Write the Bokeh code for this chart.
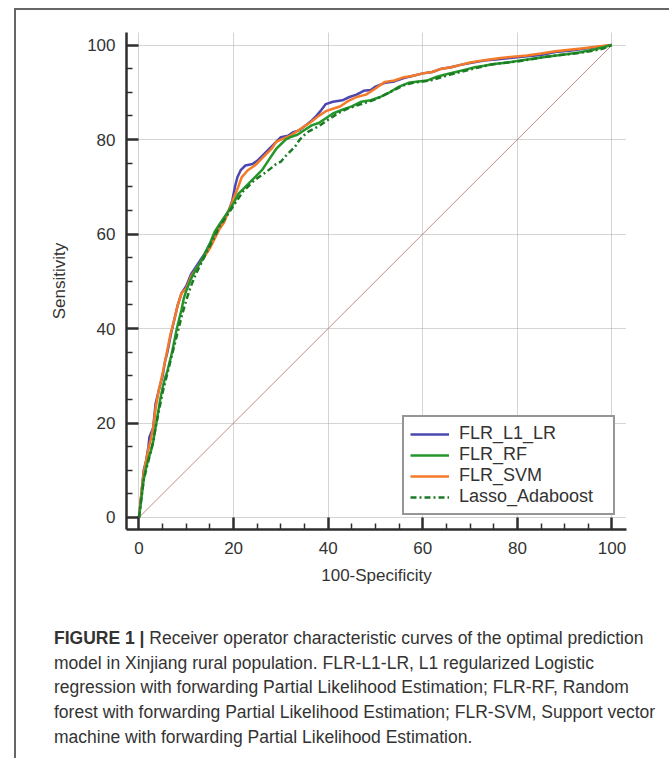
from bokeh.plotting import figure
from bokeh.layouts import column
from bokeh.models import Range1d, Legend, LegendItem, FixedTicker, Div
from bokeh.embed import file_html
from bokeh.resources import INLINE

# ---------------- data ----------------
series_names = ["FLR_L1_LR", "FLR_RF", "FLR_SVM", "Lasso_Adaboost"]

l1_x = [0, 0.5, 1, 1.5, 2, 2.2, 3, 3.5, 4.2, 5, 5.5, 6, 6.8, 7.5, 8.2, 9, 10, 11, 12, 13, 14, 15,
        16, 17, 18, 19, 19.7, 20.3, 20.8, 21.5, 22.5, 24, 25, 26, 27, 28, 29, 30, 31.5, 32.5, 34,
        35.5, 36.5, 37.5, 38.5, 39.5, 41, 43, 44.5, 46, 47.5, 49, 50, 52, 54, 56, 58, 60, 62, 64,
        66, 68, 70, 73, 76, 79, 82, 85, 88, 91, 94, 97, 100]
l1_y = [0, 5, 10, 12, 15, 17, 19, 24, 27, 30, 33, 35, 39, 42, 45, 47.5, 49, 51.5, 53, 54.5, 56, 58,
        59.5, 61.5, 63, 65, 67, 70, 72, 73.5, 74.5, 74.8, 75.5, 76.5, 77.5, 78.5, 79.5, 80.5, 80.8,
        81.5, 82, 83.2, 84, 85, 86.2, 87.5, 88, 88.3, 89, 89.5, 90.3, 90.5, 91.2, 92, 92.3, 93,
        93.5, 94, 94.3, 95, 95.3, 95.8, 96.2, 96.7, 97, 97.3, 97.6, 97.9, 98.5, 98.8, 99.2, 99.6, 100]

rf_x = [0, 0.5, 1, 1.5, 2, 2.5, 3, 3.5, 4, 4.5, 5, 5.5, 6, 6.5, 7, 7.5, 8, 8.5, 9, 9.5, 10, 11, 12,
        13, 14, 15, 16, 17, 18, 19, 20, 21, 22, 23, 24, 25, 26, 27, 28, 29, 30, 31, 32, 33.5, 35,
        36.5, 38, 39.5, 41, 43, 45, 47, 49, 51, 53, 55, 57, 59, 61, 63, 65, 67, 69, 71, 73, 75, 78,
        81, 84, 87, 90, 93, 96, 100]
rf_y = [0, 4, 8, 10.5, 12.5, 14, 16, 19, 22, 25, 27.5, 29.5, 31, 33, 35, 37.5, 40, 42, 44, 46.5,
        48, 50.5, 52.5, 54, 56, 58, 60.5, 62, 63.5, 65, 66.5, 68.5, 69.5, 70.5, 71.5, 72.5, 73.5,
        75, 76.5, 78, 79, 80, 80.5, 81, 82, 83, 83.5, 84.5, 85.5, 86.3, 87, 88, 88.3, 89, 90, 91.2,
        92, 92.3, 92.5, 93.3, 93.8, 94.3, 94.8, 95.3, 95.6, 96, 96.3, 96.8, 97.2, 97.6, 98, 98.4,
        99, 100]

svm_x = [0, 0.5, 1, 1.5, 2, 2.5, 3, 3.5, 4.2, 5, 5.5, 6, 6.7, 7.5, 8.2, 9, 10, 11, 12, 13, 14, 15,
         16, 17, 18, 19, 20, 21, 21.7, 23, 24.5, 26, 27, 28, 29, 30.5, 32, 33.5, 35, 36.5, 38, 39.5,
         41, 42.5, 44, 46, 48, 50, 52, 54, 56, 58, 60, 62, 64, 66, 68, 70, 73, 76, 79, 82, 85, 88,
         91, 94, 97, 100]
svm_y = [0, 5, 9.5, 12, 14.5, 16.5, 19, 23, 27, 30.5, 33, 35.5, 39, 42, 45, 47.5, 48.5, 51, 52.5,
         54, 55.5, 57, 59, 61, 62.5, 65, 67.5, 70, 72, 73.5, 74.5, 76, 77, 78, 79.5, 80.2, 80.8,
         81.8, 82.8, 83.8, 85, 86, 86.5, 87, 88, 89, 89.5, 90.8, 92.2, 92.5, 93.2, 93.5, 94, 94.3,
         95, 95.3, 95.8, 96.3, 96.8, 97.2, 97.5, 97.8, 98.2, 98.7, 99, 99.3, 99.7, 100]

ada_x = [0, 0.5, 1, 1.5, 2, 2.5, 3, 3.5, 4, 4.5, 5, 5.5, 6, 6.5, 7, 7.5, 8, 8.5, 9, 10, 11, 12, 13,
         14, 15, 16, 17, 18, 19, 20, 21, 22, 23, 24, 25, 26, 27, 28, 29, 30, 31, 32, 33, 34, 35, 36,
         37, 38, 39, 40, 42, 44, 46, 48, 50, 52, 54, 56, 58, 60, 62, 64, 66, 68, 70, 72, 74, 77, 80,
         83, 86, 89, 92, 95, 98, 100]
ada_y = [0, 4, 8, 10, 12, 14, 16, 19, 21.5, 24, 26.5, 28.5, 30.5, 32.5, 34.5, 36.5, 38.5, 40.5,
         42.5, 46, 49, 51.5, 53.5, 55.5, 57.5, 59.5, 61.5, 63, 64.5, 66, 67.5, 69, 70, 71, 71.8,
         72.5, 73.2, 74, 74.8, 75.3, 76.5, 77.5, 78.5, 80, 81, 81.8, 82.3, 82.8, 83.5, 84.2, 85.5,
         86.5, 87.2, 87.8, 88.5, 89.5, 90.5, 91.5, 92, 92.3, 92.6, 93.2, 93.8, 94.3, 94.8, 95.3,
         95.8, 96.2, 96.5, 97, 97.5, 97.9, 98.2, 98.6, 99.2, 100]

ref_x = [0, 100]
ref_y = [0, 100]

tick_vals = [0, 20, 40, 60, 80, 100]
minor_vals = [5, 10, 15, 25, 30, 35, 45, 50, 55, 65, 70, 75, 85, 90, 95]

x_label = "100-Specificity"
y_label = "Sensitivity"

caption_bold = "FIGURE 1 |"
caption_lines = [
    "Receiver operator characteristic curves of the optimal prediction",
    "model in Xinjiang rural population. FLR-L1-LR, L1 regularized Logistic",
    "regression with forwarding Partial Likelihood Estimation; FLR-RF, Random",
    "forest with forwarding Partial Likelihood Estimation; FLR-SVM, Support vector",
    "machine with forwarding Partial Likelihood Estimation.",
]

# ---------------- styling ----------------
FONT = "Liberation Sans"
TXT = "#333333"
AX = "#2e2e2e"

W = 649
p = figure(width=W, height=590,
           x_range=Range1d(-2.64, 103.07), y_range=Range1d(-2.54, 102.65),
           output_backend="svg", toolbar_location=None,
           min_border_left=110, min_border_right=39, min_border_top=22, min_border_bottom=71,
           background_fill_color="white", border_fill_color="white")
p.outline_line_color = None

for ax in (p.xaxis[0], p.yaxis[0]):
    ax.ticker = FixedTicker(ticks=tick_vals, minor_ticks=minor_vals)
    ax.axis_line_color = AX
    ax.axis_line_width = 2.5
    ax.major_tick_line_color = AX
    ax.major_tick_line_width = 2.5
    ax.minor_tick_line_color = AX
    ax.minor_tick_line_width = 1.5
    ax.major_tick_in = 12
    ax.major_tick_out = 0
    ax.minor_tick_in = 6
    ax.minor_tick_out = 0
    ax.major_label_text_font = FONT
    ax.major_label_text_font_size = "17px"
    ax.major_label_text_color = TXT
    ax.axis_label_text_font = FONT
    ax.axis_label_text_font_size = "17px"
    ax.axis_label_text_font_style = "normal"
    ax.axis_label_text_color = TXT

p.xaxis.axis_label = x_label
p.yaxis.axis_label = y_label
p.yaxis.major_label_standoff = 11
p.xaxis.major_label_standoff = 12
p.yaxis.axis_label_standoff = 15
p.xaxis.axis_label_standoff = 9

p.xgrid.ticker = FixedTicker(ticks=tick_vals)
p.ygrid.ticker = FixedTicker(ticks=tick_vals)
p.grid.grid_line_color = "#a8a8a8"
p.grid.grid_line_dash = "1 1"
p.grid.grid_line_width = 1

p.line(ref_x, ref_y, line_color="#c48a8a", line_width=1)

r_l1 = p.line(l1_x, l1_y, line_color="#4b46b0", line_width=2.5)
r_svm = p.line(svm_x, svm_y, line_color="#f57a28", line_width=2.5)
r_rf = p.line(rf_x, rf_y, line_color="#25962a", line_width=2.5)
r_ada = p.line(ada_x, ada_y, line_color="#1d7a24", line_width=2.5, line_dash="6 3 2 3")

legend = Legend(items=[LegendItem(label=series_names[0], renderers=[r_l1]),
                       LegendItem(label=series_names[1], renderers=[r_rf]),
                       LegendItem(label=series_names[2], renderers=[r_svm]),
                       LegendItem(label=series_names[3], renderers=[r_ada])],
                location=(276, 14))
legend.margin = 0
legend.padding = 6
legend.spacing = 0
legend.glyph_width = 39
legend.glyph_height = 20
legend.label_height = 20
legend.label_width = 148
legend.label_standoff = 10
legend.label_text_font = FONT
legend.label_text_font_size = "18px"
legend.label_text_color = TXT
legend.border_line_color = AX
legend.border_line_width = 2
legend.background_fill_color = "white"
legend.background_fill_alpha = 1
p.add_layout(legend, "center")

# ---------------- caption ----------------
cap_html = "<b>" + caption_bold + "</b> " + "<br>".join(caption_lines)
cap = Div(text=cap_html, width=W, height=158,
          styles={"font-family": "'Liberation Sans', Arial, sans-serif",
                  "font-size": "17.5px", "line-height": "24.7px", "color": TXT,
                  "padding-left": "33px", "padding-top": "21px", "box-sizing": "border-box",
                  "white-space": "nowrap"})

layout = column(p, cap, spacing=0, margin=(8, 0, 0, 14),
                styles={"border-left": "2px solid #666", "border-right": "2px solid #666",
                        "border-top": "2px solid #666"})

open("out.html", "w").write(file_html(layout, INLINE))
